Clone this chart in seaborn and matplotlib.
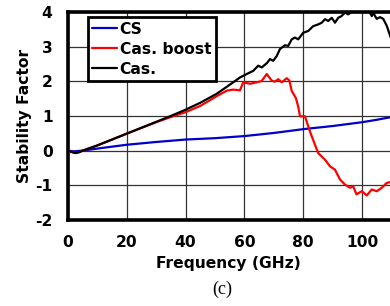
import numpy as np
import pandas as pd
import seaborn as sns
import matplotlib.pyplot as plt

# ---------------------------------------------------------------------
# Data (frequency in GHz, stability factor)
# ---------------------------------------------------------------------
cs_freq = [0, 2, 5, 10, 20, 30, 40, 50, 55, 60, 70, 80, 90, 100, 105, 110]
cs_k    = [0.0, -0.02, 0.0, 0.06, 0.17, 0.25, 0.32, 0.36, 0.39, 0.42, 0.51,
           0.62, 0.71, 0.82, 0.89, 0.97]

boost_freq = [0, 1, 2.5, 4, 5, 10, 20, 30, 35, 40, 45, 50.6, 54.0, 56.2,
              58.5, 59.6, 61.9, 64.2, 65.9, 67.6, 69.3, 70.4, 71.5, 72.7,
              74.4, 75.3, 76.1, 77.5, 78.3, 78.9, 80.6, 82.3, 84.0, 85.1,
              87.4, 89.1, 90.8, 92.5, 94.2, 95.9, 97.0, 98.1, 99.9, 101.6,
              103.3, 105.0, 106.7, 108.4, 110]
boost_k    = [0.0, -0.03, -0.07, -0.04, 0.0, 0.15, 0.49, 0.82, 0.97, 1.11,
              1.29, 1.57, 1.73, 1.76, 1.74, 1.97, 1.93, 1.97, 2.01, 2.21,
              2.02, 1.99, 2.06, 1.97, 2.09, 2.02, 1.72, 1.52, 1.27, 0.99,
              0.99, 0.55, 0.17, -0.07, -0.26, -0.45, -0.55, -0.83, -0.98,
              -1.07, -1.03, -1.26, -1.17, -1.29, -1.12, -1.17, -1.07, -0.93,
              -0.90]

cas_freq = [0, 1, 2.5, 4, 5, 10, 20, 30, 35, 40, 42, 45, 50.6, 56.2, 58.5,
            60.8, 63.0, 64.7, 65.9, 67.6, 68.7, 69.8, 71.0, 72.1, 73.8,
            74.9, 76.1, 77.2, 78.3, 80.0, 81.7, 83.4, 85.1, 86.3, 87.4,
            88.5, 89.7, 90.8, 91.9, 93.0, 94.2, 95.3, 96.5, 98.0, 100.0,
            101.5, 102.7, 103.3, 103.8, 105.0, 106.1, 107.2, 108.4, 110]
cas_k    = [0.0, -0.03, -0.07, -0.04, 0.0, 0.15, 0.49, 0.83, 1.0, 1.18,
            1.26, 1.38, 1.64, 1.97, 2.11, 2.21, 2.30, 2.45, 2.40, 2.52,
            2.64, 2.59, 2.73, 2.93, 3.04, 3.02, 3.21, 3.26, 3.21, 3.40,
            3.45, 3.59, 3.64, 3.69, 3.79, 3.74, 3.83, 3.69, 3.83, 3.88,
            3.98, 3.93, 4.00, 4.06, 4.08, 4.05, 3.98, 3.88, 3.97, 3.80,
            3.85, 3.80, 3.60, 3.20]

x_ticks = [0, 20, 40, 60, 80, 100]
y_ticks = [-2, -1, 0, 1, 2, 3, 4]

# ---------------------------------------------------------------------
# Plot
# ---------------------------------------------------------------------
sns.set_style("white")
plt.rcParams['font.family'] = ['DejaVu Sans']
plt.rcParams['axes.unicode_minus'] = False
for key in ("text.color", "axes.labelcolor", "xtick.color", "ytick.color"):
    plt.rcParams[key] = "black"

FS = 11.2

fig = plt.figure(figsize=(3.9, 3.06), dpi=100)
ax = fig.add_axes([0.174, 0.281, 0.826, 0.680])

series = [("CS", cs_freq, cs_k, "#0000cc"),
          ("Cas. boost", boost_freq, boost_k, "#ff0000"),
          ("Cas.", cas_freq, cas_k, "#000000")]
for name, f, k, c in series:
    df = pd.DataFrame({"freq": f, "k": k})
    sns.lineplot(data=df, x="freq", y="k", ax=ax, color=c, linewidth=1.6,
                 label=name, zorder=3)

ax.set_xlim(0, 109.5)
ax.set_ylim(-2, 4)
ax.set_xticks(x_ticks)
ax.set_yticks(y_ticks)
ax.grid(True, color="#333333", linewidth=0.9)
ax.tick_params(length=0, labelsize=FS, pad=11)
for lab in ax.get_xticklabels() + ax.get_yticklabels():
    lab.set_fontweight("bold")

for side in ("left", "bottom", "top"):
    ax.spines[side].set_linewidth(2.6)
    ax.spines[side].set_color("black")
ax.spines["right"].set_visible(False)

ax.set_xlabel("Frequency (GHz)", fontsize=FS, fontweight="bold", labelpad=4)
ax.set_ylabel("Stability Factor", fontsize=FS, fontweight="bold", labelpad=2)

leg = ax.legend(loc="upper left", bbox_to_anchor=(0.062, 0.976),
                borderaxespad=0, fancybox=False, framealpha=1,
                edgecolor="black", handlelength=1.6, handletextpad=0.15,
                borderpad=0.3, labelspacing=0.32,
                prop={"weight": "bold", "size": FS})
leg.get_frame().set_linewidth(2.0)

fig.text(0.57, 0.055, "(c)", ha="center", va="center", fontsize=13,
         family=["Liberation Serif", "DejaVu Serif"])

fig.savefig("out.png", dpi=100)
